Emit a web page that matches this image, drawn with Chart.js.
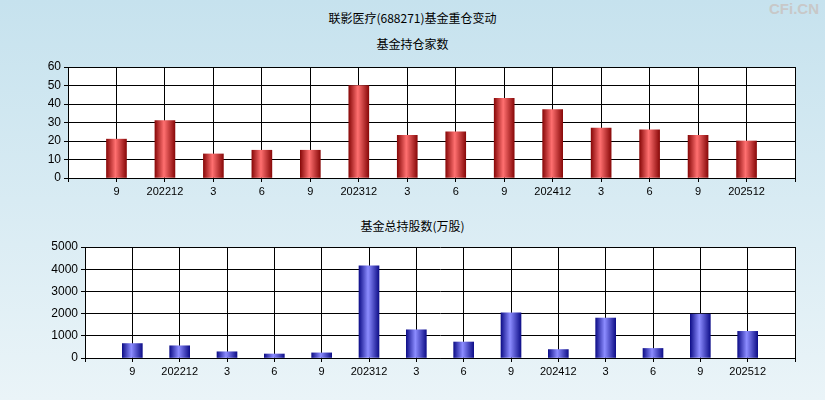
<!DOCTYPE html>
<html><head><meta charset="utf-8">
<script src="https://cdn.jsdelivr.net/npm/chart.js@4"></script>
<style>
body{margin:0;width:825px;height:400px;overflow:hidden;background:linear-gradient(#c6e2ee,#eaf4f8);font-family:"Noto Sans CJK SC",sans-serif;position:relative}
.t{position:absolute;width:825px;text-align:center;font-size:12px;color:#000}
canvas{position:absolute;left:0}
</style></head><body>
<div class="t" style="top:9px">联影医疗(688271)基金重仓变动</div>
<div class="t" style="top:35px">基金持仓家数</div>
<div class="t" style="top:217px">基金总持股数(万股)</div>
<div style="position:absolute;right:6px;top:0px;font:bold 15px Arial;color:#c8c8c8">CFi.CN</div>
<div style="position:absolute;left:0;top:55px;width:825px;height:150px"><canvas id="c1"></canvas></div>
<div style="position:absolute;left:0;top:235px;width:825px;height:150px"><canvas id="c2"></canvas></div>
<script>
const labels = ['', '9', '202212', '3', '6', '9', '202312', '3', '6', '9', '202412', '3', '6', '9', '202512', ''];
const holders = [null, 21, 31, 13, 15, 15, 50, 23, 25, 43, 37, 27, 26, 23, 20, null];
const shares = [null, 650, 550, 280, 180, 230, 4150, 1270, 720, 2030, 380, 1800, 430, 1980, 1200, null];

const whiteArea = {
  id: 'whiteArea',
  beforeDraw(chart) {
    const a = chart.chartArea, c = chart.ctx;
    c.save(); c.fillStyle = '#fff'; c.fillRect(a.left, a.top, a.right - a.left, a.bottom - a.top); c.restore();
  }
};

function makeChart(id, data, max, step, left, dark, light) {
  new Chart(document.getElementById(id), {
    type: 'bar',
    data: { labels, datasets: [{ data,
      backgroundColor(ctx) {
        const ch = ctx.chart;
        if (!ch.chartArea) return dark;
        const x = ch.scales.x.getPixelForValue(ctx.dataIndex);
        const g = ch.ctx.createLinearGradient(x - 10, 0, x + 10, 0);
        g.addColorStop(0, dark); g.addColorStop(0.45, light); g.addColorStop(1, dark);
        return g;
      },
      barThickness: 20 }] },
    options: {
      responsive: true, maintainAspectRatio: false, animation: false,
      layout: { padding: { top: 12, right: 30 } },
      plugins: { legend: { display: false }, tooltip: { enabled: false } },
      scales: {
        x: { offset: false, grid: { offset: false, color: '#000', tickLength: 4 }, border: { color: '#000' },
          ticks: { color: '#000', font: { size: 11 }, maxRotation: 0, autoSkip: false },
          afterFit(s) { s.height = 27; } },
        y: { min: 0, max, ticks: { stepSize: step, color: '#000', font: { size: 12 }, callback: v => String(v) },
          grid: { color: '#000', tickLength: 4 }, border: { color: '#000' },
          afterFit(s) { s.width = left; } }
      }
    },
    plugins: [whiteArea]
  });
}
makeChart('c1', holders, 60, 10, 68, '#8a0a0a', '#ff7070');
makeChart('c2', shares, 5000, 1000, 85, '#10108a', '#8c8cff');
</script></body></html>
